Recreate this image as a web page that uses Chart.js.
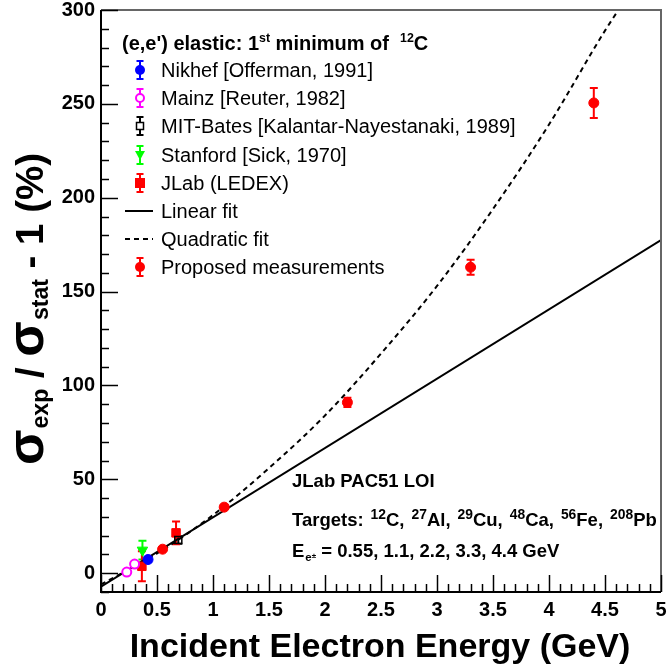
<!DOCTYPE html>
<html><head><meta charset="utf-8">
<script src="https://cdn.jsdelivr.net/npm/chart.js@4"></script>
<style>html,body{margin:0;padding:0;background:#fff}</style>
</head><body>
<canvas id="c" width="668" height="666"></canvas>
<script>
// ---- data ----
const xTickValues = [0, 0.5, 1, 1.5, 2, 2.5, 3, 3.5, 4, 4.5, 5];
const yTickValues = [0, 50, 100, 150, 200, 250, 300];

const nikhefE = [0.42];            const nikhefV = [7.3];             const nikhefErr = [1.5];
const mainzE = [0.23, 0.30];       const mainzV = [0.6, 4.9];         const mainzErr = [1, 1];
const mitE = [0.69];               const mitV = [17.7];               const mitErr = [2];
const stanfordE = [0.37];          const stanfordV = [12.3];          const stanfordErr = [5];
const jlabE = [0.365, 0.67];       const jlabV = [3.7, 21.5];         const jlabErr = [8, 6];
const proposedE = [0.55, 1.1, 2.2, 3.3, 4.4];
const proposedV = [12.8, 35.2, 91, 163, 250.5];
const proposedErr = [1, 1, 2.5, 4, 8];

const linearE = [0, 5];            const linearV = [-7.1, 177.4];
const quadE = [0, 0.5, 1, 1.5, 2, 2.5, 3, 3.5, 4, 4.5, 4.62];
const quadV = [-6, 10.5, 31, 56, 84, 117, 153, 194, 239, 289, 300];

const legendLabels = ["Nikhef [Offerman, 1991]", "Mainz [Reuter, 1982]",
  "MIT-Bates [Kalantar-Nayestanaki, 1989]", "Stanford [Sick, 1970]", "JLab (LEDEX)",
  "Linear fit", "Quadratic fit", "Proposed measurements"];

const pts = (xs, ys) => xs.map((v, i) => ({x: v, y: ys[i]}));
const FONT = "'Liberation Sans', Arial, Helvetica, sans-serif";

const datasets = [
  {label: legendLabels[7], data: pts(proposedE, proposedV), err: proposedErr, errColor: '#ff0000',
   pointStyle: 'circle', pointRadius: 5, backgroundColor: '#ff0000', borderColor: '#ff0000', borderWidth: 1},
  {label: legendLabels[0], data: pts(nikhefE, nikhefV), err: nikhefErr, errColor: '#0000ff',
   pointStyle: 'circle', pointRadius: 5, backgroundColor: '#0000ff', borderColor: '#0000ff', borderWidth: 1},
  {label: legendLabels[1], data: pts(mainzE, mainzV), err: mainzErr, errColor: '#ff00ff',
   pointStyle: 'circle', pointRadius: 4.5, backgroundColor: '#ffffff', borderColor: '#ff00ff', borderWidth: 2},
  {label: legendLabels[2], data: pts(mitE, mitV), err: mitErr, errColor: '#000000',
   pointStyle: 'rect', pointRadius: 5, backgroundColor: 'rgba(255,255,255,0)', borderColor: '#000000', borderWidth: 1.5},
  {label: legendLabels[3], data: pts(stanfordE, stanfordV), err: stanfordErr, errColor: '#00ff00',
   pointStyle: 'triangle', rotation: 180, pointRadius: 6, backgroundColor: '#00ff00', borderColor: '#00ff00', borderWidth: 1},
  {label: legendLabels[4], data: pts(jlabE, jlabV), err: jlabErr, errColor: '#ff0000',
   pointStyle: 'rect', pointRadius: 6, backgroundColor: '#ff0000', borderColor: '#ff0000', borderWidth: 1},
  {label: legendLabels[5], data: pts(linearE, linearV), showLine: true, pointRadius: 0,
   borderColor: '#000000', borderWidth: 2, backgroundColor: '#000'},
  {label: legendLabels[6], data: pts(quadE, quadV), showLine: true, pointRadius: 0,
   borderColor: '#000000', borderWidth: 2, borderDash: [5, 4], cubicInterpolationMode: 'monotone', backgroundColor: '#000'}
];

// rich text helper: parts = [[text, mode, sizeFactor, dy, gapBefore]]
function partFont(size, weight, p) { return `${weight} ${size * (p[2] || 1)}px ${FONT}`; }
function richWidth(ctx, parts, size, weight) {
  let w = 0;
  for (const p of parts) { ctx.font = partFont(size, weight, p); w += (p[4] || 0) + ctx.measureText(p[0]).width; }
  return w;
}
function drawRich(ctx, parts, x, y, size, weight) {
  ctx.textBaseline = 'alphabetic';
  ctx.textAlign = 'left';
  for (const p of parts) {
    ctx.font = partFont(size, weight, p);
    x += (p[4] || 0);
    ctx.fillText(p[0], x, y + (p[3] || 0));
    x += ctx.measureText(p[0]).width;
  }
  return x;
}
const SUP = (t, s) => [t, 'sup', 0.62, -s * 0.42, 0];

function drawMarker(ctx, kind, cx, cy, color) {
  ctx.save();
  ctx.fillStyle = color; ctx.strokeStyle = color; ctx.lineWidth = 2;
  ctx.beginPath();
  if (kind === 'fcircle') { ctx.arc(cx, cy, 5, 0, Math.PI * 2); ctx.fill(); }
  else if (kind === 'ocircle') { ctx.fillStyle = '#fff'; ctx.arc(cx, cy, 4, 0, Math.PI * 2); ctx.fill(); ctx.stroke(); }
  else if (kind === 'osquare') { ctx.lineWidth = 1.5; ctx.fillStyle = '#fff'; ctx.rect(cx - 3.5, cy - 3.5, 7, 7); ctx.fill(); ctx.stroke(); }
  else if (kind === 'ftri') { ctx.moveTo(cx - 5, cy - 4); ctx.lineTo(cx + 5, cy - 4); ctx.lineTo(cx, cy + 5); ctx.closePath(); ctx.fill(); }
  else if (kind === 'fsquare') { ctx.rect(cx - 5, cy - 5, 10, 10); ctx.fill(); }
  ctx.restore();
}

const errPlugin = {
  id: 'errbars',
  beforeDatasetsDraw(chart) {
    const {ctx, scales: {x, y}, chartArea: a} = chart;
    ctx.save();
    ctx.beginPath(); ctx.rect(a.left, a.top, a.right - a.left, a.bottom - a.top); ctx.clip();
    chart.data.datasets.forEach(ds => {
      if (!ds.err) return;
      ctx.strokeStyle = ds.errColor; ctx.lineWidth = 2;
      ds.data.forEach((p, i) => {
        const px = x.getPixelForValue(p.x);
        const yHi = y.getPixelForValue(p.y + ds.err[i]);
        const yLo = y.getPixelForValue(p.y - ds.err[i]);
        ctx.beginPath();
        ctx.moveTo(px, yLo); ctx.lineTo(px, yHi);
        ctx.moveTo(px - 4, yLo); ctx.lineTo(px + 4, yLo);
        ctx.moveTo(px - 4, yHi); ctx.lineTo(px + 4, yHi);
        ctx.stroke();
      });
    });
    ctx.restore();
  }
};

const framePlugin = {
  id: 'frame',
  afterDraw(chart) {
    const {ctx, scales: {x, y}, chartArea: a} = chart;
    ctx.save();
    // frame
    ctx.lineWidth = 2;
    ctx.strokeStyle = '#666';
    ctx.beginPath(); ctx.moveTo(a.left, a.top); ctx.lineTo(a.right, a.top); ctx.lineTo(a.right, a.bottom); ctx.stroke();
    ctx.strokeStyle = '#000';
    ctx.beginPath(); ctx.moveTo(a.left, a.top); ctx.lineTo(a.left, a.bottom); ctx.lineTo(a.right, a.bottom); ctx.stroke();
    // inner ticks
    ctx.lineWidth = 1.5;
    for (let k = 0; k <= 50; k++) {
      const v = k * 0.1;
      const px = Math.round(x.getPixelForValue(v)) + 0.5;
      const len = (k % 5 === 0) ? 17 : 8;
      ctx.beginPath(); ctx.moveTo(px, a.bottom); ctx.lineTo(px, a.bottom - len); ctx.stroke();
    }
    for (let v = -10; v <= 300; v += 10) {
      const py = Math.round(y.getPixelForValue(v)) + 0.5;
      const len = (v % 50 === 0) ? 17 : 8;
      ctx.beginPath(); ctx.moveTo(a.left, py); ctx.lineTo(a.left + len, py); ctx.stroke();
    }
    ctx.restore();

    // x axis title
    ctx.save();
    ctx.fillStyle = '#000';
    ctx.font = `bold 34px ${FONT}`;
    ctx.textAlign = 'center'; ctx.textBaseline = 'alphabetic';
    ctx.fillText('Incident Electron Energy (GeV)', 380, 657);
    ctx.restore();

    // y axis title (rotated)
    ctx.save();
    ctx.fillStyle = '#000';
    ctx.translate(43, 309);
    ctx.rotate(-Math.PI / 2);
    const yParts = [['σ', '', 1.35, 0, 0], ['exp', 'sub', 0.6, 5, 1], [' / ', '', 1, 0, 0], ['σ', '', 1.35, 0, 0],
                    ['stat', 'sub', 0.6, 5, 1], [' - 1 (%)', '', 1, 0, 0]];
    let ys = 40;
    const target = 312;
    ys = ys * target / richWidth(ctx, yParts, ys, 'bold');
    const yw = richWidth(ctx, yParts, ys, 'bold');
    drawRich(ctx, yParts, -yw / 2, 0, ys, 'bold');
    ctx.restore();

    // legend
    ctx.save();
    ctx.fillStyle = '#000';
    drawRich(ctx, [['(e,e\') elastic: 1'], SUP('st', 20), [' minimum of  '], SUP('12', 20), ['C']], 122, 50, 20, 'bold');
    const rowsY = [70, 98, 126, 155, 183, 211, 239, 267];
    const marks = [['fcircle', '#0000ff'], ['ocircle', '#ff00ff'], ['osquare', '#000000'], ['ftri', '#00ff00'],
                   ['fsquare', '#ff0000'], ['line', '#000'], ['dash', '#000'], ['fcircle', '#ff0000']];
    const mx = 140;
    rowsY.forEach((ry, i) => {
      const [kind, col] = marks[i];
      if (kind === 'line' || kind === 'dash') {
        ctx.save(); ctx.strokeStyle = '#000'; ctx.lineWidth = 2;
        if (kind === 'dash') ctx.setLineDash([5, 4]);
        ctx.beginPath(); ctx.moveTo(125, ry); ctx.lineTo(153, ry); ctx.stroke(); ctx.restore();
      } else {
        ctx.save(); ctx.strokeStyle = col; ctx.lineWidth = 2;
        ctx.beginPath();
        ctx.moveTo(mx, ry - 9); ctx.lineTo(mx, ry + 9);
        ctx.moveTo(mx - 3.5, ry - 9); ctx.lineTo(mx + 3.5, ry - 9);
        ctx.moveTo(mx - 3.5, ry + 9); ctx.lineTo(mx + 3.5, ry + 9);
        ctx.stroke(); ctx.restore();
        drawMarker(ctx, kind, mx, ry, col);
      }
      ctx.fillStyle = '#000';
      ctx.font = `20px ${FONT}`;
      ctx.textAlign = 'left'; ctx.textBaseline = 'middle';
      ctx.fillText(legendLabels[i], 161, ry + 1);
    });
    ctx.restore();

    // annotation
    ctx.save();
    ctx.fillStyle = '#000';
    const fs = 18.5;
    const TS = t => [t, 'sup', 0.75, -fs * 0.4, fs * 0.28 + 1.8];
    drawRich(ctx, [['JLab PAC51 LOI']], 292, 487, fs, 'bold');
    drawRich(ctx, [['Targets:'], TS('12'), ['C,'], TS('27'), ['Al,'], TS('29'), ['Cu,'],
                   TS('48'), ['Ca,'], TS('56'), ['Fe,'], TS('208'), ['Pb']], 292, 526, fs, 'bold');
    let ex = drawRich(ctx, [['E']], 292, 557, fs, 'bold');
    ex = drawRich(ctx, [['e', 'sub', 0.62, 4, 1]], ex, 557, fs, 'bold');
    ctx.font = `bold 8px ${FONT}`;
    ctx.fillText('±', ex, 557 + 1);
    ex += ctx.measureText('±').width;
    drawRich(ctx, [[' = 0.55, 1.1, 2.2, 3.3, 4.4 GeV']], ex, 557, fs, 'bold');
    ctx.restore();
  }
};

new Chart(document.getElementById('c'), {
  type: 'scatter',
  data: {datasets},
  options: {
    responsive: false,
    animation: false,
    devicePixelRatio: 1,
    layout: {padding: 0},
    plugins: {legend: {display: false}, tooltip: {enabled: false}},
    elements: {line: {fill: false}},
    scales: {
      x: {
        type: 'linear', min: 0, max: 5,
        afterBuildTicks: s => { s.ticks = xTickValues.map(v => ({value: v})); },
        afterFit: s => { s.height = 74; s.paddingRight = 7; s.paddingLeft = 0; },
        grid: {display: false, drawTicks: false},
        border: {display: false},
        ticks: {color: '#000', font: {family: FONT, size: 20, weight: 'bold'}, padding: 6, maxRotation: 0,
                callback: v => String(v)}
      },
      y: {
        type: 'linear', min: -10, max: 300,
        afterBuildTicks: s => { s.ticks = yTickValues.map(v => ({value: v})); },
        afterFit: s => { s.width = 101; s.paddingTop = 10; s.paddingBottom = 0; },
        grid: {display: false, drawTicks: false},
        border: {display: false},
        ticks: {color: '#000', font: {family: FONT, size: 20, weight: 'bold'}, padding: 6,
                callback: v => String(v)}
      }
    }
  },
  plugins: [errPlugin, framePlugin]
});
</script>
</body></html>
